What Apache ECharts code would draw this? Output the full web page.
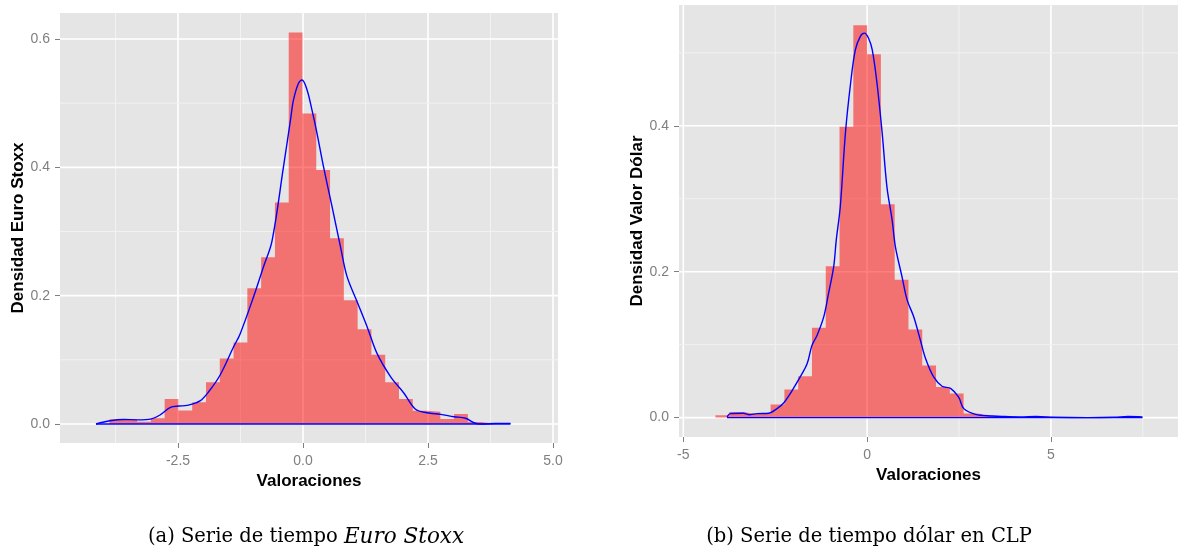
<!DOCTYPE html>
<html>
<head>
<meta charset="utf-8">
<title>Densidades de valoraciones</title>
<script src="https://cdn.jsdelivr.net/npm/echarts@6/dist/echarts.min.js"></script>
<style>
  html, body { margin: 0; padding: 0; background: #ffffff; }
  #chart { width: 1180px; height: 548px; }
</style>
</head>
<body>
<div id="chart"></div>
<script>
// ---- Euro Stoxx: histogram (30 bins) and kernel density ----
const euroBinStart = -3.87;
const euroBinWidth = 0.2757;
const euroHist = [
  0.0073, 0.007, 0.0036, 0.009, 0.039, 0.021, 0.034, 0.065, 0.102, 0.127,
  0.2115, 0.26, 0.345, 0.61, 0.484, 0.396, 0.2895, 0.193, 0.1476, 0.108,
  0.065, 0.039, 0.0208, 0.019, 0.0078, 0.0156, 0.003, 0, 0, 0.002
];
const euroDensX = [
  -4.14, -3.86, -3.58, -3.31, -3.03, -2.86, -2.65, -2.48, -2.32, -2.06,
  -1.88, -1.66, -1.39, -1.26, -0.99, -0.79, -0.62, -0.39, -0.25, -0.19,
  -0.09, -0.02, 0.08, 0.18, 0.28, 0.41, 0.58, 0.75, 0.88, 1.08,
  1.28, 1.48, 1.75, 2.02, 2.25, 2.48, 2.75, 3.02, 3.25, 3.42,
  3.55, 3.85, 4.15
];
const euroDensY = [
  0.0, 0.005, 0.007, 0.0065, 0.008, 0.014, 0.026, 0.028, 0.029, 0.036,
  0.051, 0.076, 0.12, 0.14, 0.198, 0.245, 0.285, 0.401, 0.474, 0.505,
  0.531, 0.536, 0.521, 0.489, 0.453, 0.401, 0.339, 0.276, 0.23, 0.191,
  0.152, 0.110, 0.074, 0.048, 0.023, 0.0176, 0.015, 0.0114, 0.0089, 0.002,
  0.0, 0.001, 0.001
];
const euroXTicks = [-2.5, 0.0, 2.5, 5.0];
const euroXMinor = [-3.75, -1.25, 1.25, 3.75];
const euroYTicks = [0.0, 0.2, 0.4, 0.6];
const euroYMinor = [0.1, 0.3, 0.5];

// ---- Dólar en CLP: histogram (31 bins) and kernel density ----
const usdBinStart = -4.125;
const usdBinWidth = 0.375;
const usdHist = [
  0.0032, 0.0077, 0.005, 0.005, 0.018, 0.0384, 0.0567, 0.123, 0.2075, 0.3986,
  0.538, 0.498, 0.2926, 0.189, 0.1207, 0.0713, 0.042, 0.033, 0.0055, 0.003,
  0.002, 0, 0, 0.002, 0, 0, 0, 0, 0, 0.002, 0.001
];
const usdDensX = [
  -3.81, -3.72, -3.36, -3.22, -2.99, -2.68, -2.45, -2.27, -2.09, -1.82,
  -1.63, -1.50, -1.36, -1.18, -1.05, -0.91, -0.84, -0.73, -0.59, -0.45,
  -0.32, -0.18, -0.07, 0.04, 0.14, 0.27, 0.41, 0.54, 0.68, 0.77,
  0.95, 1.09, 1.27, 1.45, 1.59, 1.81, 2.04, 2.27, 2.49, 2.63,
  2.95, 3.40, 3.70, 4.17, 4.60, 5.07, 6.00, 6.71, 7.10, 7.49
];
const usdDensY = [
  0.001, 0.0055, 0.006, 0.004, 0.0055, 0.006, 0.0123, 0.02, 0.033, 0.0557,
  0.074, 0.099, 0.113, 0.138, 0.170, 0.2066, 0.243, 0.289, 0.39, 0.458,
  0.504, 0.523, 0.527, 0.52, 0.504, 0.458, 0.39, 0.316, 0.271, 0.234,
  0.193, 0.161, 0.138, 0.106, 0.081, 0.0557, 0.043, 0.04, 0.028, 0.0123,
  0.0045, 0.0022, 0.0015, 0.001, 0.0015, 0.0005, 0.0, 0.0005, 0.0015, 0.001
];
const usdXTicks = [-5, 0, 5];
const usdXMinor = [-2.5, 2.5, 7.5];
const usdYTicks = [0.0, 0.2, 0.4];
const usdYMinor = [0.1, 0.3, 0.5];

const captionA = '(a) Serie de tiempo {i|Euro Stoxx}';
const captionB = '(b) Serie de tiempo dólar en CLP';

// ---- helpers ----
// Step outline of a histogram: one point at each bin's left edge, plus the last right edge.
function histSteps(start, width, values) {
  const pts = values.map((v, i) => [start + i * width, v]);
  pts.push([start + values.length * width, values[values.length - 1]]);
  return pts;
}
function zip(xs, ys) {
  return xs.map((x, i) => [x, ys[i]]);
}
// grid-line rows: [value, 1 for major / 0 for minor]
function gridRows(major, minor) {
  return major.map(v => [v, 1]).concat(minor.map(v => [v, 0]));
}

const FILL = 'rgba(255, 0, 0, 0.5)';
const LINE = '#0000FF';
const PANEL = '#E5E5E5';
const LABEL_GREY = '#7F7F7F';
const SANS = '"Liberation Sans", Arial, sans-serif';

function lineStyleFor(major) {
  return major
    ? { stroke: '#FFFFFF', lineWidth: 1.6 }
    : { stroke: '#F2F2F2', lineWidth: 1 };
}
function vGridRender(params, api) {
  const cs = params.coordSys;
  const p = api.coord([api.value(0), 0]);
  return {
    type: 'line',
    shape: { x1: p[0], y1: cs.y, x2: p[0], y2: cs.y + cs.height },
    style: lineStyleFor(api.value(1) === 1)
  };
}
function hGridRender(params, api) {
  const cs = params.coordSys;
  const p = api.coord([0, api.value(0)]);
  return {
    type: 'line',
    shape: { x1: cs.x, y1: p[1], x2: cs.x + cs.width, y2: p[1] },
    style: lineStyleFor(api.value(1) === 1)
  };
}

function valueAxis(kind, gridIndex, min, max, ticks, fmt, name, nameGap) {
  return {
    type: 'value', gridIndex, min, max,
    position: kind === 'x' ? 'bottom' : 'left',
    axisLine: { show: false, onZero: false },
    axisTick: { show: true, customValues: ticks, length: 5, lineStyle: { color: LABEL_GREY, width: 1 } },
    axisLabel: {
      customValues: ticks, color: LABEL_GREY, fontFamily: SANS, fontSize: 14,
      margin: kind === 'x' ? 11 : 10, formatter: fmt
    },
    splitLine: { show: false },
    minorSplitLine: { show: false },
    name, nameLocation: 'middle', nameGap,
    nameTextStyle: { color: '#000000', fontFamily: SANS, fontWeight: 'bold', fontSize: 17 }
  };
}

const chart = echarts.init(document.getElementById('chart'), null, { renderer: 'canvas' });

const euroXMin = -4.86, euroXMax = 5.1, euroYMin = -0.0296, euroYMax = 0.6405;
const usdXMin = -5.117, usdXMax = 8.457, usdYMin = -0.0266, usdYMax = 0.5656;

const fmt1 = v => v.toFixed(1);
const fmt0 = v => String(Math.round(v));

function panelSeries(ax, xMajor, xMinor, yMajor, yMinor, binStart, binWidth, hist, dx, dy) {
  return [
    {
      type: 'custom', xAxisIndex: ax, yAxisIndex: ax, renderItem: vGridRender,
      encode: { x: 0 }, data: gridRows(xMajor, xMinor), z: 1, silent: true, clip: false
    },
    {
      type: 'custom', xAxisIndex: ax, yAxisIndex: ax, renderItem: hGridRender,
      encode: { y: 0 }, data: gridRows(yMajor, yMinor), z: 1, silent: true, clip: false
    },
    {
      // histogram bars as a single stepped area, filled down to zero
      type: 'line', xAxisIndex: ax, yAxisIndex: ax, step: 'end', symbol: 'none',
      lineStyle: { width: 0, opacity: 0 },
      areaStyle: { color: FILL, opacity: 1, origin: 0 },
      data: histSteps(binStart, binWidth, hist), z: 2, silent: true
    },
    {
      type: 'line', xAxisIndex: ax, yAxisIndex: ax, smooth: 0.35, symbol: 'none',
      lineStyle: { color: LINE, width: 1.4 }, data: zip(dx, dy), z: 3, silent: true
    },
    {
      type: 'line', xAxisIndex: ax, yAxisIndex: ax, symbol: 'none',
      lineStyle: { color: LINE, width: 1.4 },
      data: [[dx[0], 0], [dx[dx.length - 1], 0]], z: 3, silent: true
    }
  ];
}

const option = {
  animation: false,
  backgroundColor: '#FFFFFF',
  grid: [
    { left: 60, top: 13, width: 498, height: 430, show: true, backgroundColor: PANEL, borderWidth: 0 },
    { left: 679, top: 5, width: 499, height: 432, show: true, backgroundColor: PANEL, borderWidth: 0 }
  ],
  xAxis: [
    valueAxis('x', 0, euroXMin, euroXMax, euroXTicks, fmt1, 'Valoraciones', 28),
    valueAxis('x', 1, usdXMin, usdXMax, usdXTicks, fmt0, 'Valoraciones', 28)
  ],
  yAxis: [
    valueAxis('y', 0, euroYMin, euroYMax, euroYTicks, fmt1, 'Densidad Euro Stoxx', 33),
    valueAxis('y', 1, usdYMin, usdYMax, usdYTicks, fmt1, 'Densidad Valor Dólar', 33)
  ],
  series: panelSeries(0, euroXTicks, euroXMinor, euroYTicks, euroYMinor,
                      euroBinStart, euroBinWidth, euroHist, euroDensX, euroDensY)
    .concat(panelSeries(1, usdXTicks, usdXMinor, usdYTicks, usdYMinor,
                        usdBinStart, usdBinWidth, usdHist, usdDensX, usdDensY)),
  graphic: [
    {
      type: 'text', x: 306, y: 537,
      style: {
        text: captionA, textAlign: 'center', textVerticalAlign: 'middle',
        fill: '#000000', font: '19.5px "DejaVu Serif", serif',
        rich: { i: { fontStyle: 'italic', fontFamily: '"DejaVu Serif", serif', fontSize: 21.5, fill: '#000000' } }
      }
    },
    {
      type: 'text', x: 869, y: 537,
      style: {
        text: captionB, textAlign: 'center', textVerticalAlign: 'middle',
        fill: '#000000', font: '19.5px "DejaVu Serif", serif'
      }
    }
  ]
};

chart.setOption(option);
</script>
</body>
</html>
